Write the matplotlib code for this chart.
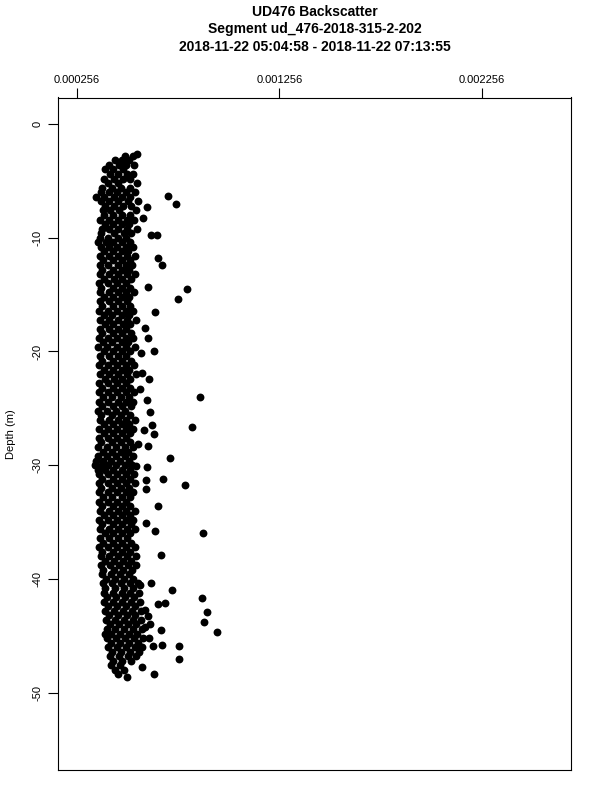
import matplotlib
matplotlib.use('Agg')
import matplotlib.pyplot as plt

plt.rcParams['font.family'] = ['Liberation Sans', 'DejaVu Sans']
plt.rcParams['axes.unicode_minus'] = False

# Title text
title_lines = ['UD476 Backscatter',
               'Segment ud_476-2018-315-2-202',
               '2018-11-22 05:04:58 - 2018-11-22 07:13:55']

# Backscatter values are in units of 1e-4, depth in metres.
# Each row: (depth, backscatter readings at that depth)
BS_UNIT = 1e-4

upper_rows = [
    (-2.8, [4.95, 5.30]),
    (-3.2, [4.42, 4.80, 5.12]),
    (-3.6, [4.15, 4.62, 5.00, 5.38]),
    (-4.0, [3.95, 4.36, 4.84]),
    (-4.4, [4.18, 4.60, 5.04, 5.30]),
    (-4.8, [3.88, 4.40, 4.82, 5.16]),
    (-5.2, [4.10, 4.56, 5.50]),
    (-5.6, [3.80, 4.30, 4.72, 5.18]),
    (-6.0, [3.76, 4.12, 4.55, 4.98, 5.42]),
    (-6.4, [3.50, 3.90, 4.38, 4.80, 5.20]),
    (-6.8, [3.72, 4.16, 4.60, 5.06, 5.58]),
    (-7.2, [3.94, 4.40, 4.82, 5.22]),
    (-7.6, [3.82, 4.18, 4.64, 5.46]),
    (-8.0, [3.90, 4.34, 4.80, 5.20]),
    (-8.4, [3.70, 4.12, 4.58, 5.02, 5.36]),
    (-8.8, [3.92, 4.34, 4.78, 5.12]),
    (-9.2, [3.80, 4.16, 4.60, 5.04, 5.50]),
    (-9.6, [3.74, 4.38, 4.86, 5.24]),
    (-10.0, [3.68, 4.10, 4.56, 5.00]),
    (-10.4, [3.62, 3.98, 4.34, 4.78, 5.20]),
    (-10.8, [3.76, 4.12, 4.54, 4.96, 5.34]),
    (-11.2, [3.88, 4.36, 4.78, 5.10]),
    (-11.6, [3.70, 4.14, 4.60, 5.02, 5.42]),
    (-12.0, [3.82, 4.36, 4.80, 5.20]),
    (-12.4, [3.68, 4.10, 4.56, 5.00, 5.28]),
    (-12.8, [3.80, 4.34, 4.76, 5.12]),
    (-13.2, [3.70, 4.16, 4.58, 5.04, 5.44]),
    (-13.6, [3.90, 4.38, 4.80, 5.22]),
    (-14.0, [3.66, 4.10, 4.52, 4.98]),
    (-14.4, [3.76, 4.32, 4.76, 5.16]),
    (-14.8, [3.68, 4.12, 4.56, 5.00, 5.38]),
    (-15.2, [3.90, 4.34, 4.80, 5.14]),
    (-15.6, [3.70, 4.16, 4.58, 5.02]),
]

middle_rows = [
    (-16.0, [3.80, 4.34, 4.78, 5.20]),
    (-16.4, [3.66, 4.10, 4.54, 4.98, 5.30]),
    (-16.8, [3.88, 4.30, 4.76, 5.14]),
    (-17.2, [3.70, 4.14, 4.60, 5.02, 5.46]),
    (-17.6, [3.92, 4.36, 4.82, 5.18]),
    (-18.0, [3.68, 4.12, 4.56, 5.00]),
    (-18.4, [3.78, 4.34, 4.78, 5.22]),
    (-18.8, [3.66, 4.08, 4.54, 4.98, 5.34]),
    (-19.2, [3.86, 4.30, 4.76, 5.10]),
    (-19.6, [3.62, 4.06, 4.52, 4.96, 5.40]),
    (-20.0, [3.88, 4.32, 4.76, 5.20]),
    (-20.4, [3.70, 4.12, 4.58, 5.00]),
    (-20.8, [3.80, 4.34, 4.80, 5.24]),
    (-21.2, [3.66, 4.10, 4.54, 4.98, 5.36]),
    (-21.6, [3.88, 4.32, 4.78, 5.14]),
    (-22.0, [3.70, 4.14, 4.58, 5.02, 5.46]),
    (-22.4, [3.92, 4.38, 4.80, 5.20]),
    (-22.8, [3.66, 4.10, 4.52, 4.98]),
    (-23.2, [3.78, 4.32, 4.76, 5.18]),
    (-23.6, [3.64, 4.08, 4.54, 4.96, 5.36]),
    (-24.0, [3.86, 4.30, 4.74, 5.12]),
    (-24.4, [3.66, 4.10, 4.56, 4.98, 5.34]),
    (-24.8, [3.80, 4.32, 4.78, 5.22]),
    (-25.2, [3.60, 4.06, 4.50, 4.94]),
    (-25.6, [3.76, 4.30, 4.74, 5.16]),
    (-26.0, [3.68, 4.12, 4.56, 5.00, 5.40]),
    (-26.4, [3.90, 4.34, 4.78, 5.14]),
    (-26.8, [3.66, 4.10, 4.54, 4.98, 5.34]),
    (-27.2, [3.88, 4.32, 4.76, 5.20]),
    (-27.6, [3.64, 4.08, 4.52, 4.96]),
    (-28.0, [3.76, 4.30, 4.74, 5.18]),
    (-28.4, [3.62, 4.06, 4.50, 4.94, 5.30]),
    (-28.8, [3.84, 4.28, 4.72, 5.10]),
    (-29.2, [3.60, 4.04, 4.48, 4.92, 5.34]),
    (-29.6, [3.52, 3.84, 4.26, 4.70, 5.14]),
    (-30.0, [3.46, 3.78, 4.10, 4.48, 4.92, 5.26]),
    (-30.4, [3.62, 3.96, 4.34, 4.78, 5.16]),
    (-30.8, [3.66, 4.10, 4.54, 4.98, 5.36]),
    (-31.2, [3.80, 4.32, 4.76, 5.20]),
    (-31.6, [3.66, 4.10, 4.54, 4.98, 5.40]),
]

lower_rows = [
    (-32.0, [3.76, 4.30, 4.74, 5.14]),
    (-32.4, [3.64, 4.08, 4.52, 4.96, 5.32]),
    (-32.8, [3.86, 4.30, 4.76, 5.18]),
    (-33.2, [3.66, 4.10, 4.54, 4.98]),
    (-33.6, [3.78, 4.32, 4.76, 5.20]),
    (-34.0, [3.68, 4.12, 4.56, 5.00, 5.40]),
    (-34.4, [3.90, 4.34, 4.78, 5.16]),
    (-34.8, [3.66, 4.10, 4.54, 4.98, 5.34]),
    (-35.2, [3.80, 4.32, 4.76, 5.22]),
    (-35.6, [3.70, 4.14, 4.58, 5.02, 5.44]),
    (-36.0, [3.92, 4.36, 4.80, 5.18]),
    (-36.4, [3.70, 4.14, 4.58, 5.02]),
    (-36.8, [3.82, 4.36, 4.80, 5.24]),
    (-37.2, [3.66, 4.10, 4.54, 4.98, 5.40]),
    (-37.6, [3.78, 4.32, 4.76, 5.20]),
    (-38.0, [3.72, 4.16, 4.60, 5.04, 5.46]),
    (-38.4, [3.94, 4.38, 4.82, 5.22]),
    (-38.8, [3.76, 4.20, 4.64, 5.08, 5.48]),
    (-39.2, [3.86, 4.40, 4.84, 5.28]),
    (-39.6, [3.80, 4.24, 4.68, 5.12]),
    (-40.0, [4.00, 4.44, 4.88, 5.32]),
    (-40.4, [3.84, 4.28, 4.72, 5.16, 5.56]),
    (-40.8, [3.92, 4.46, 4.90, 5.30]),
    (-41.2, [3.88, 4.32, 4.76, 5.20, 5.60]),
    (-41.6, [4.06, 4.50, 4.94, 5.38]),
    (-42.0, [3.90, 4.34, 4.78, 5.22, 5.66]),
    (-42.4, [4.10, 4.54, 4.98, 5.42]),
    (-42.8, [3.94, 4.38, 4.82, 5.26, 5.70]),
    (-43.2, [4.14, 4.58, 5.02, 5.44]),
    (-43.6, [3.98, 4.42, 4.86, 5.30, 5.74]),
    (-44.0, [4.18, 4.62, 5.06, 5.48]),
    (-44.4, [4.02, 4.46, 4.90, 5.34, 5.78]),
    (-44.8, [3.94, 4.24, 4.68, 5.12, 5.54]),
    (-45.2, [4.06, 4.50, 4.94, 5.38, 5.82]),
    (-45.6, [4.26, 4.70, 5.14, 5.56]),
    (-46.0, [4.10, 4.54, 4.98, 5.42, 5.78]),
    (-46.4, [4.30, 4.74, 5.18, 5.60]),
    (-46.8, [4.20, 4.64, 5.08, 5.48]),
    (-47.2, [4.36, 4.80, 5.24]),
    (-47.6, [4.26, 4.70]),
    (-48.0, [4.44, 4.88]),
    (-48.4, [4.60]),
]

# scattered high readings to the right of the main column: (depth, backscatter)
outlier_points = [
    (-2.6, 5.52), (-6.3, 7.05), (-7.0, 7.45), (-7.3, 6.02), (-8.3, 5.82),
    (-9.8, 6.22), (-9.8, 6.51), (-11.8, 6.56), (-12.4, 6.76), (-14.3, 6.07),
    (-14.5, 7.99), (-15.4, 7.55), (-16.5, 6.41), (-17.9, 5.92), (-18.8, 6.07),
    (-20.1, 5.72), (-20.0, 6.36), (-21.9, 5.77), (-22.4, 6.12), (-23.3, 5.67),
    (-24.0, 8.63), (-24.3, 6.02), (-25.3, 6.17), (-26.6, 8.24), (-26.5, 6.27),
    (-27.3, 6.36), (-26.9, 5.87), (-28.3, 6.07), (-28.1, 5.57), (-29.4, 7.15),
    (-30.2, 6.02), (-30.1, 5.47), (-31.2, 6.81), (-31.7, 7.89), (-31.3, 5.97),
    (-32.1, 5.97), (-33.6, 6.56), (-35.1, 5.97), (-35.8, 6.41), (-36.0, 8.78),
    (-37.9, 6.71), (-41.0, 7.25), (-40.4, 6.22), (-40.5, 5.67), (-41.7, 8.73),
    (-42.9, 8.98), (-43.8, 8.83), (-44.7, 9.47), (-44.5, 6.71), (-42.2, 6.56),
    (-42.1, 6.91), (-45.8, 6.76), (-45.9, 6.32), (-45.9, 7.60), (-47.0, 7.60),
    (-48.4, 6.37), (-48.6, 5.03), (-47.7, 5.77), (-44.2, 5.92), (-44.0, 6.17),
    (-43.3, 6.07), (-42.7, 5.92), (-45.2, 6.12),
]

x_ticks = [0.000256, 0.001256, 0.002256]
x_tick_labels = ['0.000256', '0.001256', '0.002256']
y_ticks = [0, -10, -20, -30, -40, -50]

depth = []
backscatter = []
for d, vals in upper_rows + middle_rows + lower_rows:
    for v in vals:
        depth.append(d)
        backscatter.append(v * BS_UNIT)
for d, v in outlier_points:
    depth.append(d)
    backscatter.append(v * BS_UNIT)

fig = plt.figure(figsize=(6, 8), dpi=100)
ax = fig.add_axes([58 / 600, 1 - 770 / 800, 513 / 600, 672.5 / 800])

ax.scatter(backscatter, depth, s=32, c='black', linewidths=0, antialiased=False)

ax.set_xlim(0.000162, 0.002696)
ax.set_ylim(-56.8, 2.33)

ax.xaxis.tick_top()
ax.set_xticks(x_ticks)
ax.set_xticklabels(x_tick_labels, fontsize=8)
ax.set_yticks(y_ticks)
ax.set_yticklabels([str(t) for t in y_ticks], fontsize=8, rotation=90, va='center')
ax.tick_params(axis='both', length=7, width=0.8, color='black')
ax.tick_params(axis='x', pad=2)
ax.tick_params(axis='y', pad=4)
for s in ax.spines.values():
    s.set_linewidth(0.8)

ax.set_ylabel('Depth (m)', fontsize=8, labelpad=12)

for i, line in enumerate(title_lines):
    fig.text(314.5 / 600, 1 - (12 + 17.5 * i) / 800, line, ha='center', va='center',
             fontsize=10, fontweight='bold')

fig.savefig('out.png', dpi=100)
